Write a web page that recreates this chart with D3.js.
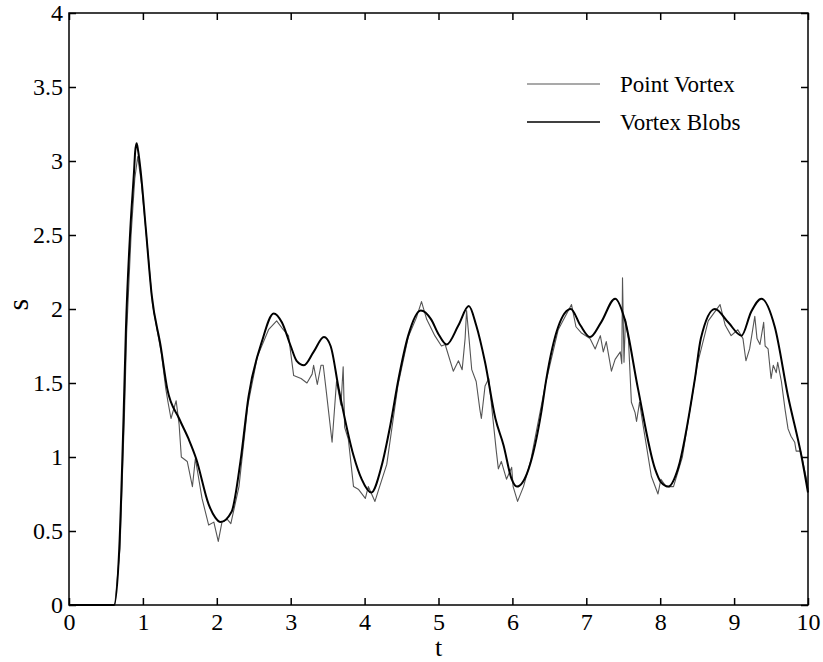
<!DOCTYPE html>
<html>
<head>
<meta charset="utf-8">
<script src="https://cdn.jsdelivr.net/npm/d3@7"></script>
<style>
  body { margin: 0; background: #fff; }
  svg text { font-family: "Liberation Serif", "Times New Roman", serif; fill: #000; }
</style>
</head>
<body>
<div id="chart"></div>
<script>
// values
var xTicks = [0, 1, 2, 3, 4, 5, 6, 7, 8, 9, 10];
var yTicks = [0, 0.5, 1, 1.5, 2, 2.5, 3, 3.5, 4];
var seriesNames = ["Point Vortex", "Vortex Blobs"];

// Vortex Blobs (smooth curve)
var blobT = [0, 0.61, 0.68, 0.74, 0.77, 0.83, 0.88, 0.895, 0.915, 0.935, 0.97, 1.04, 1.12, 1.24, 1.33, 1.49, 1.62, 1.72,
  1.89, 1.98, 2.05, 2.2, 2.32, 2.43, 2.61, 2.77, 2.88, 3.0, 3.08, 3.18, 3.31, 3.45, 3.54, 3.65, 3.85,
  3.96, 4.09, 4.23, 4.35, 4.46, 4.59, 4.76, 4.9, 5.0, 5.11, 5.27, 5.41, 5.51, 5.63, 5.77, 5.88, 5.99,
  6.06, 6.22, 6.39, 6.46, 6.62, 6.79, 6.92, 7.05, 7.2, 7.39, 7.52, 7.70, 7.93, 8.01, 8.11, 8.24, 8.47,
  8.55, 8.74, 8.92, 9.1, 9.23, 9.37, 9.55, 9.73, 9.91, 10];
var blobS = [0, 0, 0.38, 1.30, 1.86, 2.54, 2.93, 3.06, 3.12, 3.07, 2.93, 2.54, 2.09, 1.75, 1.46, 1.26, 1.12, 0.99,
  0.68, 0.59, 0.56, 0.63, 0.97, 1.41, 1.78, 1.97, 1.91, 1.75, 1.65, 1.62, 1.71, 1.81, 1.75, 1.46, 1.01,
  0.85, 0.76, 0.94, 1.22, 1.53, 1.82, 1.99, 1.93, 1.83, 1.76, 1.89, 2.02, 1.89, 1.64, 1.26, 1.08, 0.85,
  0.80, 0.92, 1.30, 1.53, 1.88, 2.0, 1.89, 1.81, 1.91, 2.07, 1.93, 1.46, 0.92, 0.83, 0.80, 0.92, 1.53,
  1.80, 2.0, 1.91, 1.82, 1.98, 2.07, 1.88, 1.41, 1.01, 0.76];

// Point Vortex (noisy curve)
var pointT = [0, 0.62, 0.69, 0.75, 0.78, 0.84, 0.89, 0.93, 0.98, 1.05, 1.13, 1.25, 1.31, 1.34, 1.38, 1.45,
  1.49, 1.52, 1.6, 1.67, 1.71, 1.8, 1.89, 1.96, 2.02, 2.07, 2.14, 2.19, 2.3, 2.42, 2.55, 2.70, 2.81, 2.9,
  2.97, 3.04, 3.14, 3.22, 3.29, 3.31, 3.36, 3.41, 3.44, 3.48, 3.56, 3.62, 3.68, 3.71, 3.73, 3.78, 3.85,
  3.92, 4.01, 4.05, 4.14, 4.19, 4.3, 4.45, 4.59, 4.7, 4.77, 4.84, 4.95, 5.04, 5.09, 5.2, 5.27, 5.32, 5.36,
  5.38, 5.45, 5.51, 5.56, 5.58, 5.63, 5.68, 5.78, 5.81, 5.85, 5.92, 5.99, 6.01, 6.07, 6.15, 6.25, 6.45,
  6.62, 6.8, 6.86, 6.93, 7.05, 7.12, 7.19, 7.23, 7.27, 7.34, 7.39, 7.46, 7.48, 7.49, 7.51, 7.53, 7.57,
  7.61, 7.66, 7.68, 7.72, 7.77, 7.88, 7.97, 8.01, 8.08, 8.18, 8.3, 8.5, 8.65, 8.81, 8.88, 8.96, 9.05,
  9.12, 9.16, 9.21, 9.28, 9.31, 9.35, 9.40, 9.42, 9.46, 9.5, 9.53, 9.57, 9.59, 9.64, 9.69, 9.73, 9.77,
  9.82, 9.84, 9.9, 9.98, 10];
var pointS = [0, 0, 0.38, 1.28, 1.84, 2.5, 2.88, 3.03, 2.85, 2.48, 2.03, 1.7, 1.46, 1.37, 1.26, 1.38,
  1.22, 1.0, 0.97, 0.80, 0.99, 0.72, 0.54, 0.56, 0.43, 0.56, 0.58, 0.55, 0.8, 1.35, 1.68, 1.86, 1.92, 1.86,
  1.82, 1.55, 1.53, 1.50, 1.56, 1.62, 1.49, 1.62, 1.62, 1.45, 1.10, 1.51, 1.35, 1.61, 1.2, 1.12, 0.80,
  0.78, 0.72, 0.80, 0.70, 0.78, 0.95, 1.48, 1.81, 1.94, 2.05, 1.93, 1.82, 1.75, 1.76, 1.58, 1.65, 1.59, 1.80,
  1.99, 1.59, 1.51, 1.32, 1.26, 1.48, 1.53, 1.05, 0.92, 0.97, 0.85, 0.93, 0.80, 0.70, 0.80, 0.98, 1.50,
  1.86, 2.03, 1.88, 1.84, 1.80, 1.73, 1.82, 1.71, 1.78, 1.58, 1.66, 1.71, 1.63, 2.21, 1.64, 1.93, 1.80,
  1.37, 1.30, 1.24, 1.37, 1.21, 0.87, 0.75, 0.85, 0.80, 0.80, 1.0, 1.62, 1.92, 2.03, 1.89, 1.82, 1.86,
  1.80, 1.65, 1.73, 1.95, 1.80, 1.76, 1.91, 1.75, 1.73, 1.53, 1.62, 1.57, 1.64, 1.51, 1.32, 1.19, 1.14,
  1.10, 1.04, 1.04, 0.85, 0.78];

if (blobT.length !== blobS.length) throw new Error("blob lengths " + blobT.length + " " + blobS.length);
if (pointT.length !== pointS.length) throw new Error("point lengths " + pointT.length + " " + pointS.length);

var width = 823,
    height = 662,
    margin = {top: 13, right: 15, bottom: 57, left: 69},
    tickLen = 7,
    serif = '"Liberation Serif", "Times New Roman", serif';

var svg = d3.select("#chart").append("svg")
  .attr("width", width)
  .attr("height", height)
  .attr("font-family", serif);

var x = d3.scaleLinear().domain([0, 10]).range([margin.left, width - margin.right]);
var y = d3.scaleLinear().domain([0, 4]).range([height - margin.bottom, margin.top]);

function zip(ts, ss) {
  return ts.map(function(t, i) { return [t, ss[i]]; });
}

var line = d3.line()
  .x(function(d) { return x(d[0]); })
  .y(function(d) { return y(d[1]); });

// noisy point vortex first, smooth blobs on top
svg.append("path")
  .datum(zip(pointT, pointS))
  .attr("fill", "none")
  .attr("stroke", "#555")
  .attr("stroke-width", 1.1)
  .attr("stroke-linejoin", "round")
  .attr("d", line);

svg.append("path")
  .datum(zip(blobT, blobS))
  .attr("fill", "none")
  .attr("stroke", "#000")
  .attr("stroke-width", 2)
  .attr("d", line.curve(d3.curveMonotoneX));

// axes: ticks pointing inward on all four sides
var axisStyle = function(g) {
  g.attr("font-family", serif).attr("font-size", 24);
  g.select(".domain").remove();
  g.selectAll(".tick line").attr("stroke", "#000").attr("stroke-width", 1.5);
  g.selectAll(".tick text").attr("fill", "#000");
};

svg.append("g")
  .attr("transform", "translate(0," + y(0) + ")")
  .call(d3.axisBottom(x).tickValues(xTicks).tickSize(-tickLen).tickPadding(8).tickFormat(d3.format("d")))
  .call(axisStyle);

svg.append("g")
  .attr("transform", "translate(0," + y(4) + ")")
  .call(d3.axisTop(x).tickValues(xTicks).tickSize(-tickLen).tickFormat(""))
  .call(axisStyle);

svg.append("g")
  .attr("transform", "translate(" + x(0) + ",0)")
  .call(d3.axisLeft(y).tickValues(yTicks).tickSize(-tickLen).tickPadding(6).tickFormat(d3.format("")))
  .call(axisStyle);

svg.append("g")
  .attr("transform", "translate(" + x(10) + ",0)")
  .call(d3.axisRight(y).tickValues(yTicks).tickSize(-tickLen).tickFormat(""))
  .call(axisStyle);

// frame
svg.append("rect")
  .attr("x", x(0))
  .attr("y", y(4))
  .attr("width", x(10) - x(0))
  .attr("height", y(0) - y(4))
  .attr("fill", "none")
  .attr("stroke", "#000")
  .attr("stroke-width", 1.5);

// axis titles
svg.append("text")
  .attr("x", x(5))
  .attr("y", 656)
  .attr("text-anchor", "middle")
  .attr("font-size", 26)
  .text("t");

svg.append("text")
  .attr("transform", "translate(28," + y(2.03) + ") rotate(-90)")
  .attr("text-anchor", "middle")
  .attr("font-size", 30)
  .text("s");

// legend
var legend = svg.append("g");
var legendY = [84, 122];
seriesNames.forEach(function(name, i) {
  legend.append("line")
    .attr("x1", 527).attr("x2", 600)
    .attr("y1", legendY[i]).attr("y2", legendY[i])
    .attr("stroke", i === 0 ? "#555" : "#000")
    .attr("stroke-width", i === 0 ? 1.1 : 1.5);
  legend.append("text")
    .attr("x", 620)
    .attr("y", legendY[i] + 8)
    .attr("font-size", 23)
    .text(name);
});
</script>
</body>
</html>
